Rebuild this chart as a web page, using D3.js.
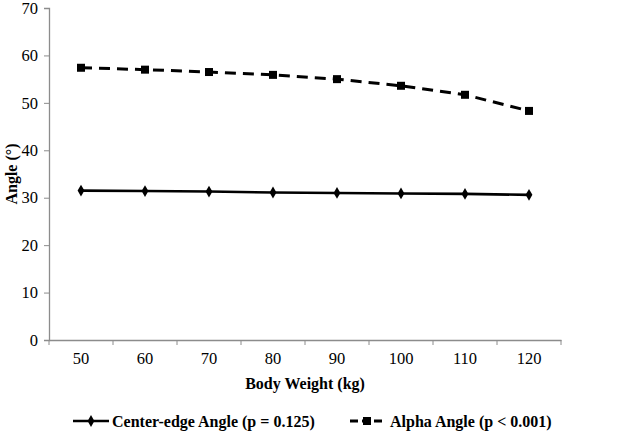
<!DOCTYPE html>
<html><head><meta charset="utf-8">
<script src="https://cdn.jsdelivr.net/npm/d3@7"></script>
</head><body style="margin:0">
<svg id="c" width="631" height="433" font-family="Liberation Serif"></svg>
<script>
const categories = ["50","60","70","80","90","100","110","120"];
const centerEdge = [31.5, 31.4, 31.3, 31.1, 31.0, 30.9, 30.8, 30.6];
const alpha = [57.4, 57.0, 56.5, 55.9, 55.0, 53.6, 51.7, 48.3];
const yTicks = [0,10,20,30,40,50,60,70];
const seriesNames = ["Center-edge Angle (p = 0.125)", "Alpha Angle (p < 0.001)"];

const svg = d3.select("#c");
const L = 49, R = 561, T = 8, B = 340;
const x = d3.scaleBand().domain(categories).range([L, R]);
const y = d3.scaleLinear().domain([0, 70]).range([B, T]);
const FF = '"Liberation Serif"';
const axisColor = "#8c8c8c";

function txt(sel, size, bold) {
  sel.style("font-family", FF).style("font-size", size + "px")
     .style("font-weight", bold ? "bold" : "normal").attr("fill", "#000");
}

// Y axis
const ya = svg.append("g").attr("transform", `translate(${L},0)`)
  .call(d3.axisLeft(y).tickValues(yTicks).tickSize(5).tickPadding(6));
ya.attr("font-family", "Liberation Serif").attr("font-size", 16);
ya.select(".domain").attr("stroke", axisColor).attr("stroke-width", 1.3);
ya.selectAll(".tick line").attr("stroke", axisColor);
txt(ya.selectAll("text"), 16.5, false);

// X axis
const xa = svg.append("g").attr("transform", `translate(0,${B})`)
  .call(d3.axisBottom(x).tickSize(0).tickPadding(12));
xa.attr("font-family", "Liberation Serif").attr("font-size", 16);
xa.select(".domain").attr("stroke", axisColor).attr("stroke-width", 1.3);
txt(xa.selectAll("text"), 16.5, false);
const bounds = categories.map(c => x(c)).concat([x(categories[categories.length-1]) + x.bandwidth()]);
xa.selectAll(".btick").data(bounds).enter().append("line")
  .attr("x1", d => d).attr("x2", d => d).attr("y1", 0).attr("y2", 5)
  .attr("stroke", axisColor);

const cx = c => x(c) + x.bandwidth() / 2;
const line = d3.line().x((d, i) => cx(categories[i])).y(d => y(d));

// Alpha series
svg.append("path").datum(alpha).attr("d", line).attr("fill", "none")
  .attr("stroke", "#000").attr("stroke-width", 3).attr("stroke-dasharray", "11,7");
svg.selectAll(".sq").data(alpha).enter().append("rect")
  .attr("x", (d, i) => cx(categories[i]) - 4).attr("y", d => y(d) - 4)
  .attr("width", 8).attr("height", 8).attr("fill", "#000");

// Center-edge series
svg.append("path").datum(centerEdge).attr("d", line).attr("fill", "none")
  .attr("stroke", "#000").attr("stroke-width", 2.6);
const diamond = d3.symbol().type(d3.symbolDiamond).size(40);
svg.selectAll(".dm").data(centerEdge).enter().append("path")
  .attr("d", diamond).attr("transform", (d, i) => `translate(${cx(categories[i])},${y(d)})`)
  .attr("fill", "#000");

// Axis titles
txt(svg.append("text").attr("x", (L + R) / 2).attr("y", 389).attr("text-anchor", "middle")
  .text("Body Weight (kg)"), 16, true);
txt(svg.append("text").attr("transform", `translate(13,${(T + B) / 2}) rotate(-90)`)
  .attr("text-anchor", "middle").attr("dominant-baseline", "middle")
  .text("Angle (°)"), 16, true);

// Legend
const ly = 421;
const lg = svg.append("g");
lg.append("line").attr("x1", 73).attr("x2", 109).attr("y1", ly).attr("y2", ly)
  .attr("stroke", "#000").attr("stroke-width", 2.6);
lg.append("path").attr("d", diamond).attr("transform", `translate(91,${ly})`).attr("fill", "#000");
txt(lg.append("text").attr("x", 112).attr("y", ly + 6).text(seriesNames[0]), 16, true);
lg.append("line").attr("x1", 350).attr("x2", 384).attr("y1", ly).attr("y2", ly)
  .attr("stroke", "#000").attr("stroke-width", 3).attr("stroke-dasharray", "8,4");
lg.append("rect").attr("x", 363).attr("y", ly - 4).attr("width", 8).attr("height", 8).attr("fill", "#000");
txt(lg.append("text").attr("x", 390).attr("y", ly + 6).text(seriesNames[1]), 16, true);
</script>
</body></html>
